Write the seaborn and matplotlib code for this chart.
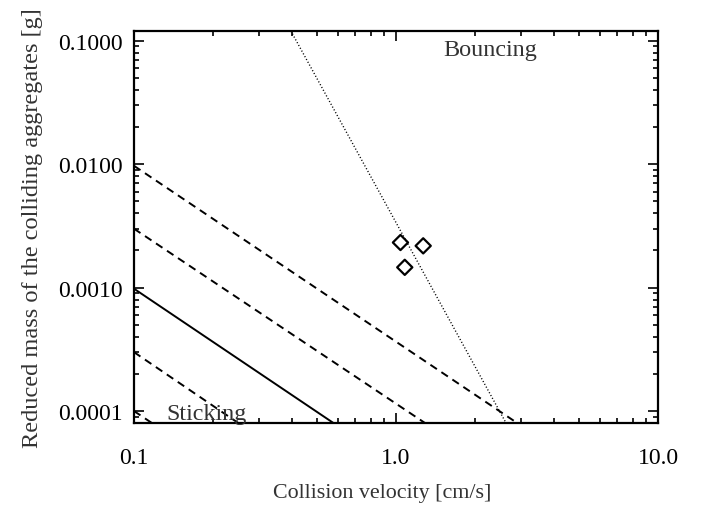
import numpy as np
import pandas as pd
import matplotlib
matplotlib.use("Agg")
import matplotlib.pyplot as plt
import matplotlib.ticker as mticker
import seaborn as sns

# Boundary lines: (velocity, reduced mass) at both ends
dash_v = [[0.1, 2.90], [0.1, 1.29], [0.1, 0.250], [0.1, 0.117]]
dash_m = [[0.0097, 8.0e-5], [0.0030, 8.0e-5], [0.00030, 8.0e-5], [0.000100, 8.0e-5]]
solid_v = [0.1, 0.577]
solid_m = [0.00098, 8.0e-5]
dotted_v = [0.397, 2.63]
dotted_m = [0.12, 8.0e-5]

# Measured collisions
obs_v = [1.04, 1.27, 1.08]
obs_m = [0.00232, 0.00218, 0.00146]

xticks = [0.1, 1.0, 10.0]
xtick_labels = ["0.1", "1.0", "10.0"]
yticks = [0.0001, 0.001, 0.01, 0.1]
ytick_labels = ["0.0001", "0.0010", "0.0100", "0.1000"]

sns.set_theme(style="ticks")
plt.rcParams["font.family"] = ["Liberation Serif", "DejaVu Serif"]

fig = plt.figure(figsize=(7.03, 5.06), dpi=100)
ax = fig.add_axes([134 / 703, (506 - 424) / 506, (658 - 134) / 703, (424 - 32) / 506])
ax.set_xscale("log")
ax.set_yscale("log")

for v, m in zip(dash_v, dash_m):
    sns.lineplot(x=v, y=m, ax=ax, color="black", linewidth=1.4,
                 linestyle=(0, (4, 2.8)), estimator=None, sort=False)
sns.lineplot(x=solid_v, y=solid_m, ax=ax, color="black", linewidth=1.4,
             estimator=None, sort=False)
sns.lineplot(x=dotted_v, y=dotted_m, ax=ax, color="black", linewidth=1.0,
             linestyle=(0, (0.8, 1.5)), estimator=None, sort=False)

sns.scatterplot(x=obs_v, y=obs_m, ax=ax, marker="D", s=60,
                facecolor="none", edgecolor="black", linewidth=1.6, zorder=5)

ax.set_xlim(0.1, 10.0)
ax.set_ylim(8.0e-5, 0.12)

ax.xaxis.set_major_locator(mticker.FixedLocator(xticks))
ax.xaxis.set_major_formatter(mticker.FixedFormatter(xtick_labels))
ax.xaxis.set_minor_locator(mticker.LogLocator(base=10, subs=np.arange(2, 10)))
ax.xaxis.set_minor_formatter(mticker.NullFormatter())
ax.yaxis.set_major_locator(mticker.FixedLocator(yticks))
ax.yaxis.set_major_formatter(mticker.FixedFormatter(ytick_labels))
ax.yaxis.set_minor_locator(mticker.LogLocator(base=10, subs=np.arange(2, 10)))
ax.yaxis.set_minor_formatter(mticker.NullFormatter())

ax.tick_params(which="both", direction="in", top=True, right=True,
               colors="black", width=1.2, labelsize=17)
ax.tick_params(which="major", length=7)
ax.tick_params(which="minor", length=3.5)
ax.tick_params(axis="x", which="major", pad=17.5)
ax.tick_params(axis="y", which="major", pad=8)

for s in ax.spines.values():
    s.set_linewidth(1.6)
    s.set_color("black")

ax.set_xlabel("Collision velocity [cm/s]", fontsize=15.8, color="#333333", labelpad=10.5)
ax.xaxis.label.set_x(0.473)
ax.set_ylabel("Reduced mass of the colliding aggregates [g]", fontsize=17.6,
              color="#333333", labelpad=11)

ax.text(1.51, 0.085, "Bouncing", fontsize=17.4, color="#333333", ha="left", va="center")
ax.text(0.133, 9.6e-5, "Sticking", fontsize=17.4, color="#333333", ha="left", va="center")

ax.grid(False)
fig.savefig("out.png", dpi=100)
